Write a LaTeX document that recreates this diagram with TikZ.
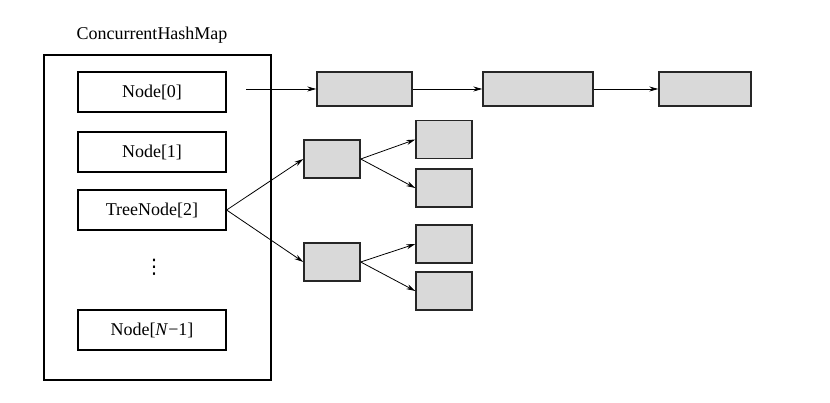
\documentclass[tikz,border=0pt]{standalone}
\usepackage{fontspec}
\setmainfont{Liberation Serif}
\newfontfamily\symfont{DejaVu Sans}
\usetikzlibrary{arrows.meta}
\begin{document}
\begin{tikzpicture}[x=1pt,y=-1pt,
  slot/.style={draw=black,line width=1.2pt,minimum width=148pt,minimum height=40pt,inner sep=0pt,font=\fontsize{18}{21}\selectfont},
  gbox/.style={draw=black!85,line width=1.4pt,fill=black!15,inner sep=0pt},
  arr/.style={line width=0.8pt,-{Stealth[length=9pt,width=5pt]}}]
\useasboundingbox (0,0) rectangle (830,403);
\node[font=\fontsize{18}{21}\selectfont] (title) at (152,35) {ConcurrentHashMap};
\node[draw=black,line width=1.2pt,minimum width=227pt,minimum height=325pt,inner sep=0pt] (map) at (157.5,217.5) {};
\node[slot] (n0) at (152,92) {Node[0]};
\node[slot] (n1) at (152,152) {Node[1]};
\node[slot] (n2) at (152,210) {TreeNode[2]};
\node[font=\symfont\fontsize{20}{22}\selectfont,inner sep=0pt] (dots) at (154,267) {⋮};
\node[slot] (nn) at (152,330) {Node[\textit{N}−1]};
% chain
\coordinate (c0) at (246,89);
\node[gbox,minimum width=95pt,minimum height=34pt] (l1) at (364.5,89) {};
\node[gbox,minimum width=110pt,minimum height=34pt] (l2) at (538,89) {};
\node[gbox,minimum width=92pt,minimum height=34pt] (l3) at (705,89) {};
\draw[arr] (c0) -- (l1.west);
\draw[arr] (l1.east) -- (l2.west);
\draw[arr] (l2.east) -- (l3.west);
% tree
\node[gbox,minimum width=56pt,minimum height=38pt] (ta) at (332,159) {};
\node[gbox,minimum width=56pt,minimum height=38pt] (tb) at (332,262) {};
\node[gbox,minimum width=56pt,minimum height=38pt] (t1) at (444,139.5) {};
\node[gbox,minimum width=56pt,minimum height=38pt] (t2) at (444,188) {};
\node[gbox,minimum width=56pt,minimum height=38pt] (t3) at (444,244) {};
\node[gbox,minimum width=56pt,minimum height=38pt] (t4) at (444,291) {};
\draw[arr] (n2.east) -- (ta.west);
\draw[arr] (n2.east) -- (tb.west);
\draw[arr] (ta.east) -- (t1.west);
\draw[arr] (ta.east) -- (t2.west);
\draw[arr] (tb.east) -- (t3.west);
\draw[arr] (tb.east) -- (t4.west);
\end{tikzpicture}
\end{document}
